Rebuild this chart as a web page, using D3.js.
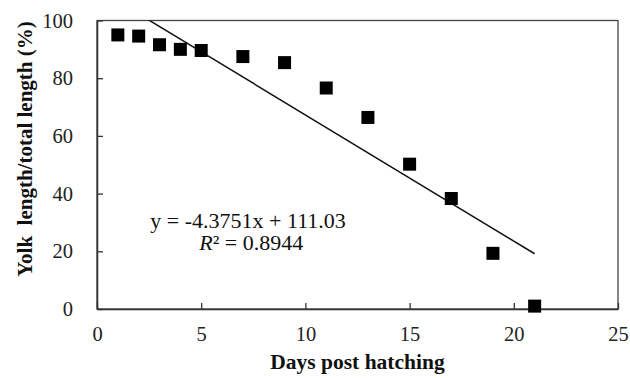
<!DOCTYPE html>
<html>
<head>
<meta charset="UTF-8">
<script src="https://d3js.org/d3.v7.min.js"></script>
<style>
  body { margin: 0; background: #fff; }
  svg text { font-family: "Liberation Serif", "Times New Roman", Times, serif; fill: #111; }
</style>
</head>
<body>
<div id="chart"></div>
<script>
// data
const days = [1, 2, 3, 4, 5, 7, 9, 11, 13, 15, 17, 19, 21];
const yolkRatio = [95.0, 94.6, 91.6, 90.0, 89.6, 87.5, 85.4, 76.6, 66.4, 50.2, 38.3, 19.3, 1.0];
const xTicks = [0, 5, 10, 15, 20, 25];
const yTicks = [0, 20, 40, 60, 80, 100];
const slope = -4.3751, intercept = 111.03;

const W = 630, H = 378;
const margin = {top: 20.5, right: 12, bottom: 69, left: 97};
const width = W - margin.left - margin.right;
const height = H - margin.top - margin.bottom;
const serif = '"Liberation Serif", "Times New Roman", Times, serif';

const svg = d3.select("#chart").append("svg")
    .attr("width", W).attr("height", H);
const g = svg.append("g")
    .attr("transform", `translate(${margin.left},${margin.top})`);

const x = d3.scaleLinear().domain([0, 25]).range([0, width]);
const y = d3.scaleLinear().domain([0, 100]).range([height, 0]);

// plot frame
g.append("rect")
    .attr("width", width).attr("height", height)
    .attr("fill", "none").attr("stroke", "#444").attr("stroke-width", 1.3);

// x axis, ticks pointing inward
g.append("g")
    .attr("transform", `translate(0,${height})`)
    .call(d3.axisBottom(x).tickValues(xTicks).tickSizeInner(-6).tickSizeOuter(0).tickPadding(17))
    .call(a => a.select(".domain").attr("stroke", "#333").attr("stroke-width", 1.5))
    .call(a => a.selectAll(".tick line").attr("stroke", "#333").attr("stroke-width", 1.3))
    .call(a => a.selectAll("text").style("font-size", "20.5px").style("font-family", serif).style("fill", "#222"));

// y axis, ticks pointing inward
g.append("g")
    .call(d3.axisLeft(y).tickValues(yTicks).tickSizeInner(-6).tickSizeOuter(0).tickPadding(24))
    .call(a => a.select(".domain").attr("stroke", "#333").attr("stroke-width", 1.5))
    .call(a => a.selectAll(".tick line").attr("stroke", "#333").attr("stroke-width", 1.3))
    .call(a => a.selectAll("text").style("font-size", "20.5px").style("font-family", serif).style("fill", "#222"));

// linear trend line, clipped to the plot area
svg.append("clipPath").attr("id", "plotClip")
    .append("rect").attr("width", width).attr("height", height);
const trendX = [days[0], days[days.length - 1]];
g.append("line")
    .attr("clip-path", "url(#plotClip)")
    .attr("x1", x(trendX[0])).attr("y1", y(slope * trendX[0] + intercept))
    .attr("x2", x(trendX[1])).attr("y2", y(slope * trendX[1] + intercept))
    .attr("stroke", "#111").attr("stroke-width", 1.5);

// square markers
const s = 13;
g.selectAll("rect.pt")
    .data(days.map((d, i) => ({x: d, y: yolkRatio[i]})))
    .join("rect")
    .attr("class", "pt")
    .attr("x", d => x(d.x) - s / 2)
    .attr("y", d => y(d.y) - s / 2)
    .attr("width", s).attr("height", s)
    .attr("fill", "#000");

// equation text
g.append("text")
    .attr("x", x(7.25)).attr("y", y(28.2))
    .attr("text-anchor", "middle")
    .style("font-size", "22px").style("font-family", serif)
    .text("y = -4.3751x + 111.03");
const r2 = g.append("text")
    .attr("x", x(7.4)).attr("y", y(20.3))
    .attr("text-anchor", "middle")
    .style("font-size", "22px").style("font-family", serif);
r2.append("tspan").style("font-style", "italic").text("R");
r2.append("tspan").text("² = 0.8944");

// axis titles
svg.append("text")
    .attr("x", margin.left + x(12.5)).attr("y", 369)
    .attr("text-anchor", "middle")
    .style("font-size", "21.5px").style("font-weight", "bold").style("font-family", serif)
    .text("Days post hatching");
svg.append("text")
    .attr("transform", `translate(32,${149}) rotate(-90)`)
    .attr("text-anchor", "middle")
    .style("font-size", "21px").style("font-weight", "bold").style("font-family", serif)
    .style("white-space", "pre")
    .text("Yolk  length/total length (%)");
</script>
</body>
</html>
